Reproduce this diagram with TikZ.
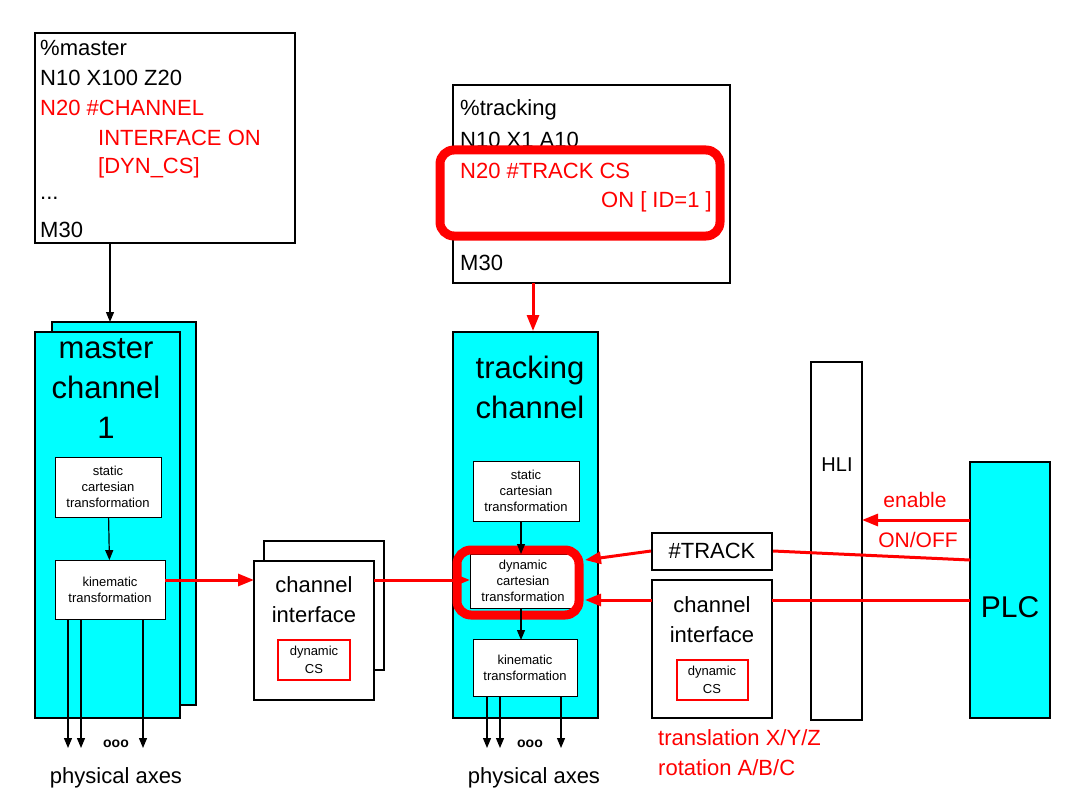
\documentclass[tikz,border=0pt]{standalone}
\usepackage{fontspec}
\setmainfont{Liberation Sans}
\usetikzlibrary{arrows.meta}
\definecolor{chcyan}{RGB}{0,255,255}
\tikzset{
  box/.style={draw,line width=2pt},
  chan/.style={box,fill=chcyan},
  sub/.style={draw,fill=white,line width=0.8pt,align=center,font=\fontsize{13}{16}\selectfont},
  code/.style={anchor=west,font=\fontsize{22}{26}\selectfont,inner sep=0pt},
  big/.style={align=center,font=\fontsize{31}{40}\selectfont},
  mid/.style={align=center,font=\fontsize{22}{30}\selectfont},
  redbox/.style={draw=red,line width=2pt,align=center,font=\fontsize{13}{18}\selectfont},
  ring/.style={draw=red,line width=9pt,rounded corners=14pt},
  bl/.style={-{Triangle[length=10pt,width=8pt]},line width=1.2pt},
  rd/.style={-{Triangle[length=16pt,width=12pt]},red,line width=3pt},
}
\begin{document}
\begin{tikzpicture}[x=1pt,y=-1pt]
\useasboundingbox (0,0) rectangle (1081,805);
% master code
\draw[box] (35,33) rectangle (295,243);
\node[code] at (40,48) {\%master};
\node[code] at (40,78) {N10 X100 Z20};
\node[code,red] at (40,108) {N20 \#CHANNEL};
\node[code,red] at (98,138) {INTERFACE ON};
\node[code,red] at (98,168) {[DYN\_CS]};
\node[code] at (40,198) {...};
\node[code] at (40,230) {M30};
\coordinate (mcode) at (110,243);
% tracking code
\draw[box] (453,85) rectangle (730,283);
\node[code] at (460,110) {\%tracking};
\node[code] at (460,140) {N10 X1 A10};
\fill[white] (442,152) rectangle (718,234);
\node[code,red] at (460,171) {N20 \#TRACK CS};
\node[code,red,anchor=east] at (712,202) {ON [ ID=1 ]};
\node[code] at (460,263) {M30};
\draw[ring] (440,150) rectangle (720,236);
\coordinate (tcode) at (533,283);
% master channel
\draw[chan] (52,322) rectangle (196,705);
\draw[chan] (35,332) rectangle (180,718);
\node[big] at (106,388) {master\\channel\\1};
\node[sub,minimum width=106pt,minimum height=60pt] (mstat) at (108,487) {static\\cartesian\\transformation};
\node[sub,minimum width=110pt,minimum height=59pt] (mkin) at (110,590) {kinematic\\transformation};
\draw[bl] (mcode) -- (110,322);
\draw[bl] (mstat) -- (mkin);
\foreach \x in {68,81,143} \draw[bl] (\x,620) -- (\x,748);
\node[font=\fontsize{14}{14}\selectfont\bfseries] at (116,744) {ooo};
\node[mid] at (116,778) {physical axes};
% channel interface (middle)
\draw[box] (264,541) rectangle (384,670);
\draw[box,fill=white] (254,561) rectangle (374,700);
\node[mid] (mci) at (314,600) {channel\\interface};
\node[redbox,minimum width=72pt,minimum height=40pt] at (314,660) {dynamic\\CS};
\coordinate (mciL) at (254,580);
\coordinate (mciR) at (374,580);
% tracking channel
\draw[chan] (453,332) rectangle (598,718);
\node[big] at (530,387) {tracking\\channel};
\node[sub,minimum width=106pt,minimum height=60pt] (tstat) at (526,491) {static\\cartesian\\transformation};
\node[sub,minimum width=106pt,minimum height=54pt] (tdyn) at (523,581) {dynamic\\cartesian\\transformation};
\node[sub,minimum width=104pt,minimum height=57pt] (tkin) at (525,668) {kinematic\\transformation};
\draw[ring] (457,550) rectangle (579,615);
\draw[bl] (521,521) -- (521,554);
\draw[bl] (521,608) -- (521,640);
\draw[rd] (tcode) -- (533,331);
\foreach \x in {487,500,561} \draw[bl] (\x,697) -- (\x,748);
\node[font=\fontsize{14}{14}\selectfont\bfseries] at (530,744) {ooo};
\node[mid] at (534,778) {physical axes};
% right side
\node[draw,line width=2pt,font=\fontsize{22}{26}\selectfont,minimum width=120pt,minimum height=37pt] (track) at (712,551) {\#TRACK};
\draw[box] (652,580) rectangle (772,718);
\node[mid] at (712,620) {channel\\interface};
\node[redbox,minimum width=71pt,minimum height=40pt] at (712,680) {dynamic\\CS};
\draw[box] (811,362) rectangle (862,720);
\node[font=\fontsize{20}{24}\selectfont] at (837,465) {HLI};
\draw[chan] (970,462) rectangle (1050,718);
\node[font=\fontsize{30}{34}\selectfont] (plc) at (1010,607) {PLC};
% red connections
\draw[rd] (mkin.east |- 0,580) -- (mciL);
\draw[rd] (mciR) -- (470,580);
\draw[rd] (970,520) -- (862,520);
\node[red,font=\fontsize{21}{26}\selectfont] at (915,500) {enable};
\node[red,font=\fontsize{21}{26}\selectfont] at (918,540) {ON/OFF};
\draw[red,line width=3pt] (970,560) -- (track.east);
\draw[rd] (track.west) -- (585,560);
\draw[red,line width=3pt] (970,600) -- (772,600);
\draw[rd] (652,600) -- (585,600);
\node[code,red] at (658,738) {translation X/Y/Z};
\node[code,red] at (658,768) {rotation A/B/C};
\end{tikzpicture}
\end{document}
